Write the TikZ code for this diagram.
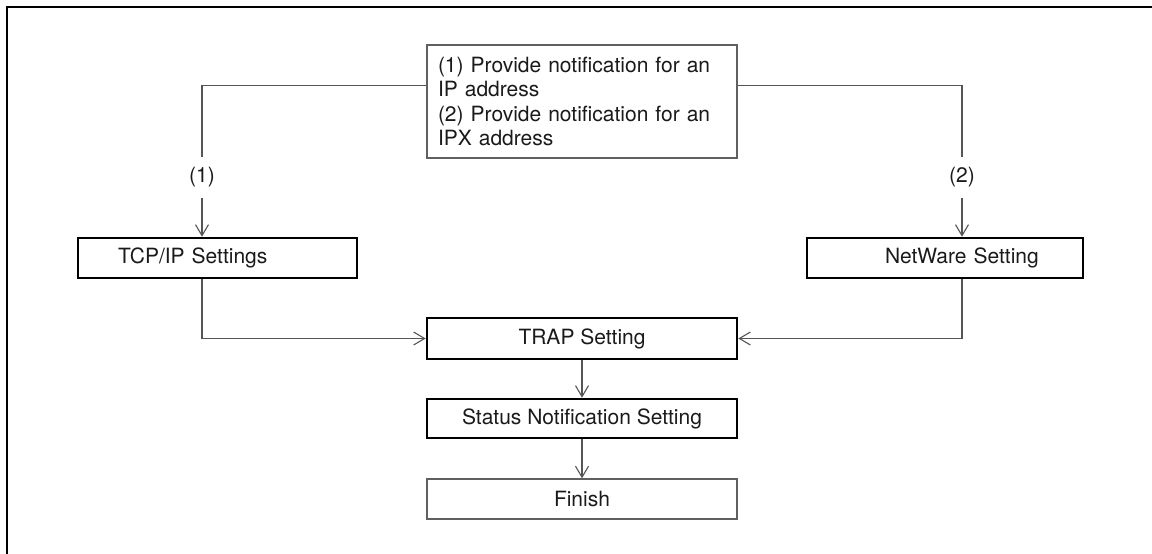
\documentclass[tikz,border=0pt]{standalone}
\usepackage{fontspec}
\setmainfont{TeX Gyre Heros}
\usetikzlibrary{arrows.meta}
\definecolor{linegray}{HTML}{555555}
\definecolor{boxgray}{HTML}{606060}
\definecolor{txt}{HTML}{1A1A1A}
\tikzset{
  lbl/.style={font=\fontsize{21}{24.3}\selectfont, text=txt},
  thinbox/.style={lbl, draw=boxgray, line width=1.4pt, rectangle},
  thickbox/.style={lbl, draw=black, line width=2.6pt, rectangle},
  conn/.style={draw=linegray, line width=1.1pt},
  arr/.style={conn, -{Straight Barb[length=11pt,width=13pt]}},
  tag/.style={lbl, inner xsep=2pt, inner ysep=10pt}
}
\begin{document}
\begin{tikzpicture}[x=1pt,y=-1pt]
\useasboundingbox (0,0) rectangle (1152,554);
% outer frame (top and left edges)
\draw[line width=2.6pt, line cap=rect] (7,554) -- (7,7) -- (1152,7);

\node[thinbox, text width=288pt, inner xsep=11pt, minimum height=113pt, align=left] (top) at (582,101.5)
  {(1) Provide notification for an\\IP address\\(2) Provide notification for an\\IPX address};

\node[thickbox, text width=271pt, inner xsep=4pt, minimum height=40pt, align=left] (tcp) at (217.5,258)
  {\hspace*{36pt}TCP/IP Settings};
\node[thickbox, text width=268pt, inner xsep=4pt, minimum height=40pt, align=left] (net) at (945,258)
  {\hspace*{74pt}NetWare Setting};

\node[thickbox, minimum width=310pt, minimum height=41pt] (trap) at (582,338.5) {TRAP Setting};
\node[thickbox, minimum width=310pt, minimum height=39pt] (status) at (582,418.5) {Status Notification Setting};
\node[thinbox, minimum width=310pt, minimum height=40pt] (finish) at (582,499) {Finish};

\node[tag] (lab1) at (202,177.5) {(1)};
\node[tag] (lab2) at (962,177.5) {(2)};

\coordinate (hy) at (0,85.5);
\draw[conn] (top.west |- hy) -| (lab1.north);
\draw[arr] (lab1.south) -- (tcp.north -| lab1.south);
\draw[conn] (top.east |- hy) -| (lab2.north);
\draw[arr] (lab2.south) -- (net.north -| lab2.south);

\draw[arr] (tcp.south -| lab1.south) |- (trap.west);
\draw[arr] (net.south -| lab2.south) |- (trap.east);
\draw[arr] (trap) -- (status);
\draw[arr] (status) -- (finish);
\end{tikzpicture}
\end{document}
